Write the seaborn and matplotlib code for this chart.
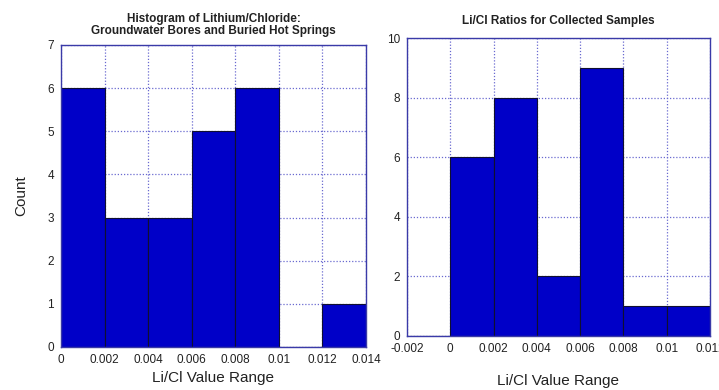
import matplotlib
matplotlib.use("Agg")
import matplotlib.pyplot as plt
import seaborn as sns
import numpy as np

# Groundwater bores and buried hot springs
left_edges = [0.0, 0.002, 0.004, 0.006, 0.008, 0.010, 0.012, 0.014]
left_counts = [6, 3, 3, 5, 6, 0, 1]
left_xticks = [0, 0.002, 0.004, 0.006, 0.008, 0.01, 0.012, 0.014]
left_xticklabels = ["0", "0.002", "0.004", "0.006", "0.008", "0.01", "0.012", "0.014"]
left_yticks = [0, 1, 2, 3, 4, 5, 6, 7]

# Collected samples
right_edges = [-0.002, 0.0, 0.002, 0.004, 0.006, 0.008, 0.010, 0.012]
right_counts = [0, 6, 8, 2, 9, 1, 1]
right_xticks = [-0.002, 0, 0.002, 0.004, 0.006, 0.008, 0.01, 0.012]
right_xticklabels = ["-0.002", "0", "0.002", "0.004", "0.006", "0.008", "0.01", "0.012"]
right_yticks = [0, 2, 4, 6, 8, 10]

sns.set_theme(style="white")
plt.rcParams["font.family"] = ["Liberation Sans", "DejaVu Sans"]

BAR = "#0000c8"
SPINE = "#3a3aa8"
GRID = "#6a6ad0"

fig = plt.figure(figsize=(7.19, 3.90), dpi=100)
ax1 = fig.add_axes([0.0848, 0.1103, 0.4242, 0.7744])
ax2 = fig.add_axes([0.566, 0.1385, 0.4214, 0.764])


def draw(ax, edges, counts, xticks, xlabels, yticks, title, title_pad):
    centers = [(a + b) / 2 for a, b in zip(edges[:-1], edges[1:])]
    sns.histplot(x=centers, weights=counts, bins=edges, ax=ax,
                 color=BAR, alpha=1.0, edgecolor="#101030", linewidth=0.8)
    ax.set_xlim(edges[0], edges[-1])
    ax.set_ylim(yticks[0], yticks[-1])
    ax.set_xticks(xticks)
    ax.set_xticklabels(xlabels, fontsize=8.5)
    ax.set_yticks(yticks)
    ax.set_yticklabels([str(v) for v in yticks], fontsize=8.5)
    ax.tick_params(length=0, pad=5, colors="#222222")
    ax.grid(True, linestyle=(0, (1, 1.5)), color=GRID, linewidth=0.9)
    ax.set_axisbelow(True)
    for s in ax.spines.values():
        s.set_color(SPINE)
        s.set_linewidth(1.0)
    ax.set_title(title, fontsize=8.5, fontweight="bold", color="#222222",
                 pad=title_pad, linespacing=1.0)
    ax.set_xlabel("Li/Cl Value Range", fontsize=11, color="#222222", labelpad=4)


draw(ax1, left_edges, left_counts, left_xticks, left_xticklabels, left_yticks,
     "Histogram of Lithium/Chloride:\nGroundwater Bores and Buried Hot Springs", 8)
ax1.set_ylabel("Count", fontsize=11, color="#222222", labelpad=14)

draw(ax2, right_edges, right_counts, right_xticks, right_xticklabels, right_yticks,
     "Li/Cl Ratios for Collected Samples", 10)
ax2.set_ylabel("")
ax2.xaxis.labelpad = 14

fig.savefig("out.png", dpi=100, facecolor="white")
